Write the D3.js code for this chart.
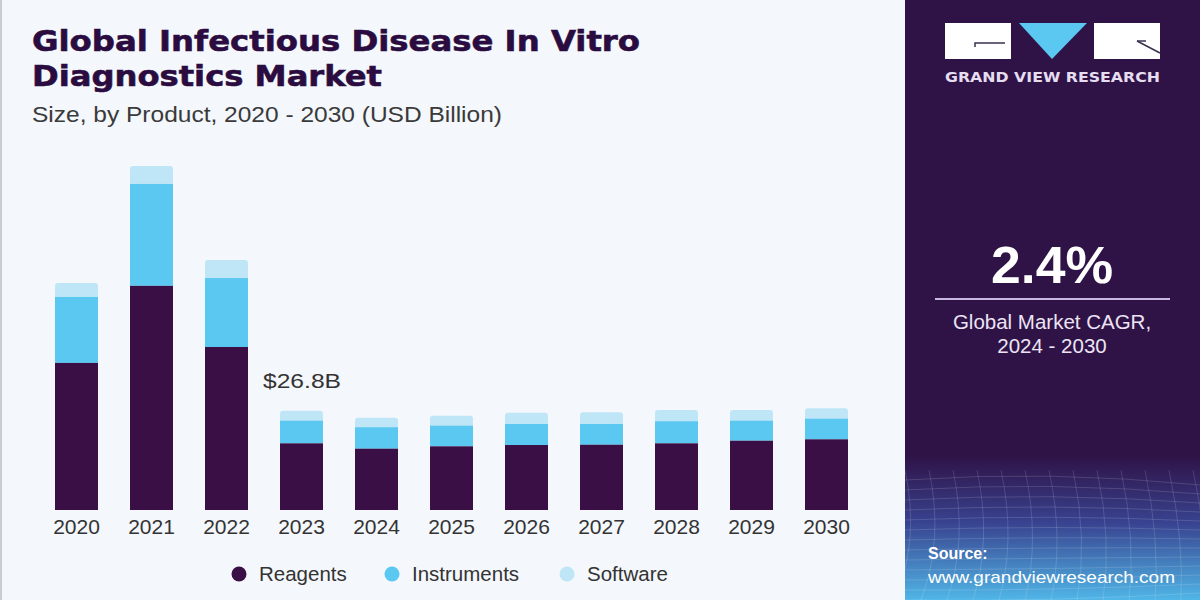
<!DOCTYPE html>
<html><head><meta charset="utf-8">
<script src="https://cdn.jsdelivr.net/npm/d3@7"></script>
<style>html,body{margin:0;padding:0;background:#f4f7fb;}svg{display:block;}</style>
</head><body>
<svg id="chart" width="1200" height="600"></svg>
<script>
const years = ["2020","2021","2022","2023","2024","2025","2026","2027","2028","2029","2030"];
const reagents    = [39.7, 60.5, 44.0, 18.0, 16.55, 17.19, 17.54, 17.62, 18.0, 18.7, 19.08];
const instruments = [17.8, 27.5, 18.6, 6.1, 5.78, 5.56, 5.67, 5.59, 5.94, 5.4, 5.56];
const software    = [3.78, 4.86, 4.86, 2.7, 2.59, 2.70, 3.05, 3.16, 3.05, 2.89, 2.81];
const seriesNames = ["Reagents","Instruments","Software"];
const seriesColors = ["#3a0f46","#5bc8f2","#bfe6f7"];
const annotation = {year:"2023", text:"$26.8B"};
const title1 = "Global Infectious Disease In Vitro";
const title2 = "Diagnostics Market";
const subtitle = "Size, by Product, 2020 - 2030 (USD Billion)";
const cagr = "2.4%";
const cagrLabel = ["Global Market CAGR,", "2024 - 2030"];

const svg = d3.select("#chart");
const W = 1200, H = 600;
svg.append("rect").attr("width",W).attr("height",H).attr("fill","#f4f7fb");
svg.append("rect").attr("x",0).attr("y",0).attr("width",2).attr("height",H).attr("fill","#c9ccd2");

// Titles
[[title1,51,608],[title2,86,350]].forEach(([t,yy,len])=>{
  svg.append("text").attr("x",32).attr("y",yy).text(t)
    .attr("font-family","'DejaVu Sans', sans-serif").attr("font-weight","900").attr("font-size",29)
    .attr("fill","#2a0c40").attr("stroke","#2a0c40").attr("stroke-width",0.6)
    .attr("textLength",len).attr("lengthAdjust","spacingAndGlyphs");
});
svg.append("text").attr("x",32).attr("y",122).text(subtitle)
  .attr("font-family","'Liberation Sans', Arial, sans-serif").attr("font-size",22)
  .attr("fill","#3a3a3a").attr("textLength",470).attr("lengthAdjust","spacingAndGlyphs");

// Scales
const x = d3.scaleBand().domain(years).range([39,864]).paddingInner(0.427).paddingOuter(0.2135);
const y = d3.scaleLinear().domain([0,100]).range([510, 510-370.5]);

const data = years.map((yr,i)=>({year:yr, Reagents:reagents[i], Instruments:instruments[i], Software:software[i]}));
const stack = d3.stack().keys(seriesNames)(data);

const g = svg.append("g");
const order = [2,1,0];
order.forEach(li=>{
  const layer = stack[li];
  g.selectAll(null).data(layer).enter().append("rect")
    .attr("x",d=>x(d.data.year))
    .attr("width",x.bandwidth())
    .attr("y",d=>y(d[1]))
    .attr("height",d=>y(d[0])-y(d[1]) + (li===2?6:0))
    .attr("rx",li===2?3:0)
    .attr("fill",seriesColors[li]);
});

// x axis
const xAxis = d3.axisBottom(x).tickSize(0).tickPadding(0);
const ax = svg.append("g").attr("transform","translate(0,519)").call(xAxis);
ax.select(".domain").remove();
ax.selectAll("text").attr("font-family","'Liberation Sans', Arial, sans-serif").attr("font-size",21)
  .attr("fill","#333").attr("dy","0.71em");

// annotation
const ai = years.indexOf(annotation.year);
svg.append("text").attr("x",x(annotation.year)-17).attr("y",y(reagents[ai]+instruments[ai]+software[ai])-23)
  .text(annotation.text).attr("font-family","'Liberation Sans', Arial, sans-serif").attr("font-size",21)
  .attr("fill","#333").attr("textLength",78).attr("lengthAdjust","spacingAndGlyphs");

// legend
const legendX = [239, 392, 567];
seriesNames.forEach((n,i)=>{
  svg.append("circle").attr("cx",legendX[i]).attr("cy",574).attr("r",7.5).attr("fill",seriesColors[i]);
  svg.append("text").attr("x",legendX[i]+20).attr("y",581).text(n)
    .attr("font-family","'Liberation Sans', Arial, sans-serif").attr("font-size",20.5).attr("fill","#333");
});

// Right panel
const defs = svg.append("defs");
const grad = defs.append("linearGradient").attr("id","pg").attr("x1",0).attr("y1",0).attr("x2",0).attr("y2",1);
grad.append("stop").attr("offset","0").attr("stop-color","#2f1347");
grad.append("stop").attr("offset","0.76").attr("stop-color","#2f1347");
grad.append("stop").attr("offset","0.87").attr("stop-color","#38428f");
grad.append("stop").attr("offset","1").attr("stop-color","#50b6e7");
svg.append("rect").attr("x",905).attr("y",0).attr("width",295).attr("height",H).attr("fill","url(#pg)");
defs.append("clipPath").attr("id","pc").append("rect").attr("x",905).attr("y",470).attr("width",295).attr("height",130);
const grid = svg.append("g").attr("clip-path","url(#pc)").attr("stroke","#ffffff").attr("stroke-opacity",0.14).attr("fill","none");
d3.range(0,14).forEach(k=>{
  grid.append("path").attr("d",`M${905+k*24},470 Q${920+k*24},540 ${895+k*26},600`);
  grid.append("path").attr("d",`M905,${480+k*10} Q1050,${470+k*11} 1200,${485+k*9}`);
});

// logo
const lg = svg.append("g");
lg.append("rect").attr("x",945).attr("y",23).attr("width",66).attr("height",36).attr("fill","#ffffff");
lg.append("path").attr("d","M975,47 L975,43 L1005,43").attr("stroke","#3a3050").attr("stroke-width",1.5).attr("fill","none");
lg.append("path").attr("d","M1019,23 L1087,23 L1052,59 Z").attr("fill","#5bc8f2");
lg.append("rect").attr("x",1094).attr("y",23).attr("width",66).attr("height",36).attr("fill","#ffffff");
lg.append("path").attr("d","M1137,41 L1160,53").attr("stroke","#3a3050").attr("stroke-width",1.5).attr("fill","none");
lg.append("path").attr("d","M1137,41 L1146,41").attr("stroke","#3a3050").attr("stroke-width",1.5).attr("fill","none");
svg.append("text").attr("x",945).attr("y",82).text("GRAND VIEW RESEARCH")
  .attr("font-family","'DejaVu Sans', sans-serif").attr("font-weight","bold").attr("font-size",13.5)
  .attr("fill","#e6def0").attr("textLength",215).attr("lengthAdjust","spacingAndGlyphs");

// CAGR
svg.append("text").attr("x",1052).attr("y",283).attr("text-anchor","middle").text(cagr)
  .attr("font-family","'Liberation Sans', Arial, sans-serif").attr("font-weight","bold").attr("font-size",52).attr("fill","#ffffff")
  .attr("textLength",122).attr("lengthAdjust","spacingAndGlyphs");
svg.append("line").attr("x1",935).attr("x2",1170).attr("y1",299).attr("y2",299).attr("stroke","#c8b7de").attr("stroke-width",2);
cagrLabel.forEach((t,i)=>{
  svg.append("text").attr("x",1052).attr("y",329+i*24).attr("text-anchor","middle").text(t)
    .attr("font-family","'Liberation Sans', Arial, sans-serif").attr("font-size",20.5).attr("fill","#ece4f4");
});

// Source
svg.append("text").attr("x",928).attr("y",559).text("Source:")
  .attr("font-family","'Liberation Sans', Arial, sans-serif").attr("font-weight","bold").attr("font-size",16).attr("fill","#ffffff");
svg.append("text").attr("x",928).attr("y",583).text("www.grandviewresearch.com")
  .attr("font-family","'Liberation Sans', Arial, sans-serif").attr("font-size",17).attr("fill","#ffffff")
  .attr("textLength",247).attr("lengthAdjust","spacingAndGlyphs");
</script>
</body></html>
